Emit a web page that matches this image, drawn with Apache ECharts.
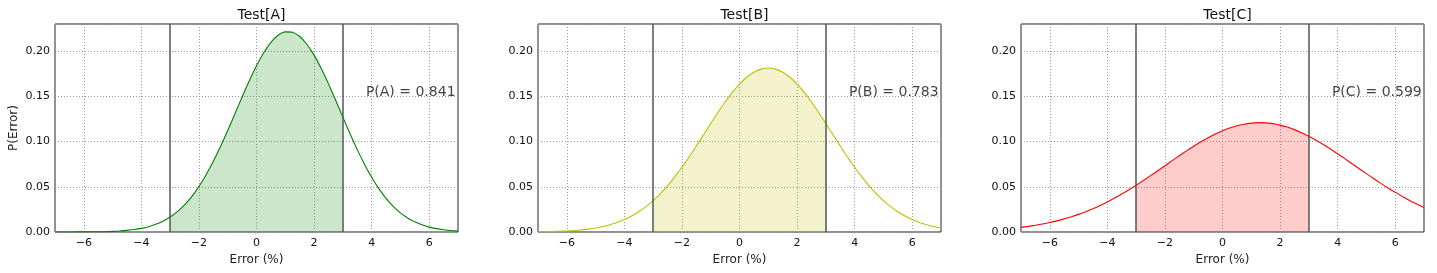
<!DOCTYPE html>
<html><head><meta charset="utf-8">
<script src="https://cdn.jsdelivr.net/npm/echarts@6/dist/echarts.min.js"></script>
<style>html,body{margin:0;padding:0;background:#fff}#c{width:1437px;height:273px}</style>
</head><body><div id="c"></div>
<script>
// ---- data ----
const xValues = [-7,-6.75,-6.5,-6.25,-6,-5.75,-5.5,-5.25,-5,-4.75,-4.5,-4.25,-4,-3.75,-3.5,-3.25,-3,-2.75,-2.5,-2.25,-2,-1.75,-1.5,-1.25,-1,-0.75,-0.5,-0.25,0,0.25,0.5,0.75,1,1.25,1.5,1.75,2,2.25,2.5,2.75,3,3.25,3.5,3.75,4,4.25,4.5,4.75,5,5.25,5.5,5.75,6,6.25,6.5,6.75,7];
const densityA = [0.0000,0.0000,0.0000,0.0001,0.0001,0.0002,0.0003,0.0004,0.0007,0.0011,0.0018,0.0027,0.0040,0.0059,0.0085,0.0119,0.0166,0.0225,0.0300,0.0392,0.0503,0.0633,0.0781,0.0945,0.1122,0.1307,0.1493,0.1673,0.1839,0.1982,0.2096,0.2175,0.2213,0.2208,0.2162,0.2076,0.1956,0.1807,0.1638,0.1456,0.1270,0.1086,0.0911,0.0750,0.0605,0.0479,0.0372,0.0284,0.0212,0.0155,0.0112,0.0079,0.0054,0.0037,0.0025,0.0016,0.0010];
const densityB = [0.0002,0.0004,0.0005,0.0008,0.0011,0.0016,0.0023,0.0032,0.0044,0.0060,0.0080,0.0105,0.0137,0.0176,0.0224,0.0281,0.0347,0.0424,0.0511,0.0609,0.0716,0.0830,0.0951,0.1075,0.1199,0.1321,0.1437,0.1543,0.1635,0.1711,0.1767,0.1801,0.1813,0.1801,0.1767,0.1711,0.1635,0.1543,0.1437,0.1321,0.1199,0.1075,0.0951,0.0830,0.0716,0.0609,0.0511,0.0424,0.0347,0.0281,0.0224,0.0176,0.0137,0.0105,0.0080,0.0060,0.0044];
const densityC = [0.0051,0.0062,0.0074,0.0088,0.0105,0.0123,0.0145,0.0169,0.0195,0.0225,0.0258,0.0294,0.0333,0.0375,0.0420,0.0467,0.0517,0.0569,0.0623,0.0678,0.0733,0.0789,0.0844,0.0897,0.0948,0.0997,0.1042,0.1083,0.1119,0.1149,0.1174,0.1192,0.1204,0.1209,0.1207,0.1198,0.1182,0.1160,0.1132,0.1098,0.1059,0.1015,0.0968,0.0918,0.0865,0.0811,0.0755,0.0700,0.0645,0.0591,0.0538,0.0487,0.0439,0.0393,0.0349,0.0309,0.0272];
const panelTitles = ['Test[A]','Test[B]','Test[C]'];
const probLabels = ['P(A) = 0.841','P(B) = 0.783','P(C) = 0.599'];
const boundLow = -3;
const boundHigh = 3;
const labelPos = [3.8, 0.154];

// ---- styling / layout ----
const densities = [densityA, densityB, densityC];
const lineColors = ['#008000', '#bfbf00', '#ff0000'];
const fillColors = ['rgba(0,128,0,0.2)', 'rgba(191,191,0,0.2)', 'rgba(255,0,0,0.2)'];
const lefts = [55, 538, 1021];
const plotW = 403;
const font = 'DejaVu Sans';

const chart = echarts.init(document.getElementById('c'), null, {renderer: 'canvas'});
const grid = [], xAxis = [], yAxis = [], series = [], title = [];
const gridLine = {show: true, lineStyle: {color: '#999', type: [1, 2], width: 1}};

for (let i = 0; i < 3; i++) {
  grid.push({left: lefts[i], width: plotW, top: 24, height: 208, show: true,
    borderColor: '#222', borderWidth: 1, backgroundColor: 'transparent'});
  title.push({text: panelTitles[i], left: lefts[i] + plotW / 2, top: 3, textAlign: 'center',
    textStyle: {fontFamily: font, fontSize: 14, fontWeight: 'normal', color: '#111'}});
  xAxis.push({type: 'value', gridIndex: i, min: -7, max: 7, splitNumber: 7,
    name: 'Error (%)', nameLocation: 'middle', nameGap: 18,
    nameTextStyle: {fontFamily: font, fontSize: 12, color: '#222'},
    axisLine: {show: false}, axisTick: {show: false},
    axisLabel: {fontFamily: font, fontSize: 11, color: '#111', margin: 6,
      showMinLabel: false, showMaxLabel: false,
      formatter: v => (v < 0 ? '\u2212' + Math.abs(v) : String(v))},
    splitLine: gridLine});
  yAxis.push({type: 'value', gridIndex: i, min: 0, max: 0.23, interval: 0.05,
    name: i === 0 ? 'P(Error)' : '', nameLocation: 'middle', nameGap: 35,
    nameTextStyle: {fontFamily: font, fontSize: 12, color: '#222'},
    axisLine: {show: false}, axisTick: {show: false},
    axisLabel: {fontFamily: font, fontSize: 11, color: '#111', margin: 5,
      showMaxLabel: false, formatter: v => v.toFixed(2)},
    splitLine: gridLine});

  const full = xValues.map((x, k) => [x, densities[i][k]]);
  const shaded = full.filter(p => p[0] >= boundLow && p[0] <= boundHigh);

  series.push({type: 'line', xAxisIndex: i, yAxisIndex: i, data: shaded, smooth: 0.2,
    showSymbol: false, lineStyle: {width: 0}, areaStyle: {color: fillColors[i], opacity: 1},
    silent: true, z: 1});
  series.push({type: 'line', xAxisIndex: i, yAxisIndex: i, data: full, smooth: 0.2,
    showSymbol: false, lineStyle: {color: lineColors[i], width: 1.1}, silent: true, z: 3,
    markLine: {silent: true, symbol: ['none', 'none'], label: {show: false},
      lineStyle: {color: '#555', width: 1.5, type: 'solid'},
      data: [{xAxis: boundLow}, {xAxis: boundHigh}]}});
  series.push({type: 'scatter', xAxisIndex: i, yAxisIndex: i, data: [labelPos], symbolSize: 0,
    silent: true, z: 5,
    label: {show: true, position: 'right', distance: 0, formatter: probLabels[i],
      fontFamily: font, fontSize: 14, color: '#111'}});
}

chart.setOption({animation: false, backgroundColor: '#fff', title, grid, xAxis, yAxis, series});
</script>
</body></html>
